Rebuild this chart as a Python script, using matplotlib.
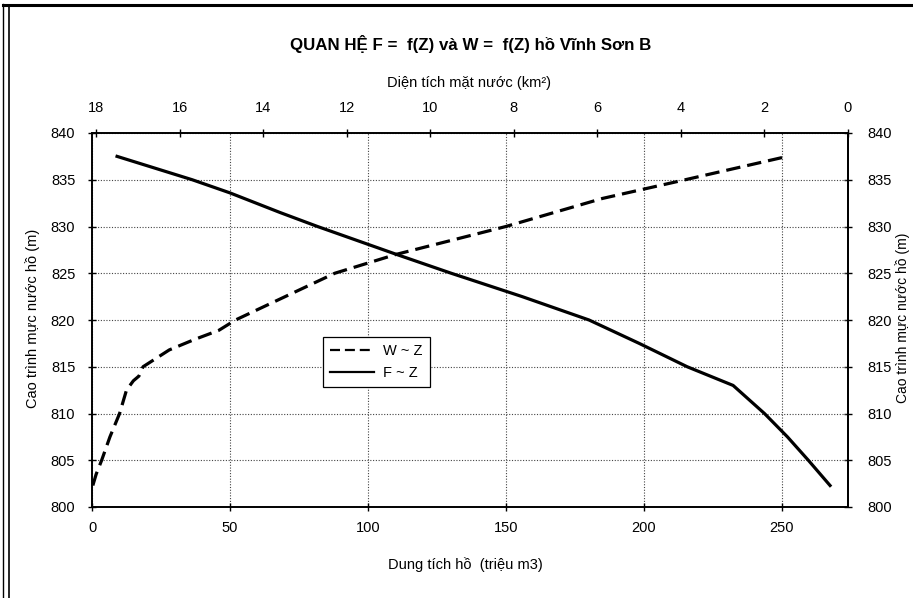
import matplotlib as mpl
mpl.use('Agg')
import matplotlib.pyplot as plt
from matplotlib.lines import Line2D

mpl.rcParams.update({
    'font.family': ['Liberation Sans', 'DejaVu Sans'],
    'font.size': 10.5,
    'axes.linewidth': 1.2,
})

# ── data ──
# W ~ Z : storage (million m3) vs water level (m)
W_VOL = [0.3, 1.5, 3.5, 6.5, 10, 12.5, 15, 17, 18.5, 28, 37, 46, 52,
         70, 88, 110, 150, 185, 215, 252]
W_LEVEL = [802.3, 803.5, 805, 807.5, 810, 812.5, 813.5, 814, 815, 816.8,
           817.9, 818.9, 820, 822.5, 825, 827, 830, 833, 835, 837.5]

# F ~ Z : surface area (km2) vs water level (m)
F_AREA = [17.5, 15.7, 14.8, 13.6, 12.7, 10.8, 9.5, 7.8, 6.2, 5.0, 3.85,
          2.75, 2.0, 1.45, 0.95, 0.43]
F_LEVEL = [837.5, 835, 833.6, 831.5, 830, 827, 825, 822.5, 820, 817.5,
           815, 813, 810, 807.5, 805, 802.3]

X_TICKS = [0, 50, 100, 150, 200, 250]
TOP_TICKS = [18, 16, 14, 12, 10, 8, 6, 4, 2, 0]
Y_TICKS = [800, 805, 810, 815, 820, 825, 830, 835, 840]

TITLE = 'QUAN HỆ F =  f(Z) và W =  f(Z) hồ Vĩnh Sơn B'
TOP_LABEL = 'Diện tích mặt nước (km²)'
BOTTOM_LABEL = 'Dung tích hồ  (triệu m3)'
Y_LABEL = 'Cao trình mực nước hồ (m)'

W, H = 913, 598
fig = plt.figure(figsize=(W / 100, H / 100), dpi=100)
ax = fig.add_axes([92 / W, (H - 507) / H, 756 / W, 374 / H])

ax.set_xlim(0, 274)
ax.set_ylim(800, 840)
ax.set_xticks(X_TICKS)
ax.set_yticks(Y_TICKS)
ax.tick_params(direction='inout', length=6, width=1.0, pad=7, labelsize=10.5)
ax.tick_params(axis='y', pad=9)
ax.grid(True, color='#444444', linestyle=(0, (1, 1.5)), lw=0.8)

line_w, = ax.plot(W_VOL, W_LEVEL, color='black', lw=2.3,
                  linestyle=(0, (4.5, 2.2)), label='W ~ Z')

ax_top = ax.twiny()
ax_top.set_xlim(18.1, 0)
ax_top.set_xticks(TOP_TICKS)
ax_top.tick_params(direction='inout', length=6, width=1.0, pad=10, labelsize=10.5)
line_f, = ax_top.plot(F_AREA, F_LEVEL, color='black', lw=2.3, label='F ~ Z')

ax_r = ax.secondary_yaxis('right')
ax_r.set_yticks(Y_TICKS)
ax_r.tick_params(direction='inout', length=6, width=1.0, pad=11, labelsize=10.5)

leg = ax.legend(handles=[line_w, line_f], loc='upper left',
                bbox_to_anchor=(0.3056, 0.455), borderaxespad=0,
                fontsize=10.5, fancybox=False, framealpha=1,
                edgecolor='black', handlelength=3.0, handletextpad=0.6,
                borderpad=0.5, labelspacing=0.55)
leg.get_frame().set_linewidth(0.9)
for h in leg.get_lines():
    h.set_linewidth(1.6)

fig.text(471 / W, 1 - 44 / H, TITLE, ha='center', va='center',
         fontsize=12.2, fontweight='bold')
fig.text(469 / W, 1 - 83 / H, TOP_LABEL, ha='center', va='center', fontsize=10.5)
fig.text(465 / W, 1 - 565 / H, BOTTOM_LABEL, ha='center', va='center',
         fontsize=10.5)
fig.text(33 / W, 1 - 318 / H, Y_LABEL, ha='center', va='center',
         rotation=90, fontsize=10.5)
# right-hand title sits at the very edge of the scanned chart
fig.text(903 / W, 1 - 318 / H, Y_LABEL, ha='center', va='center',
         rotation=90, fontsize=10)

# outer chart-area frame of the scan
fig.add_artist(Line2D([3 / W, 3 / W], [0, 1 - 4 / H], color='black', lw=1.0))
fig.add_artist(Line2D([9 / W, 9 / W], [0, 1 - 6 / H], color='black', lw=1.2))
fig.add_artist(Line2D([3 / W, 1], [1 - 5 / H, 1 - 5 / H], color='black', lw=2.2))

fig.savefig('out.png', dpi=100)
